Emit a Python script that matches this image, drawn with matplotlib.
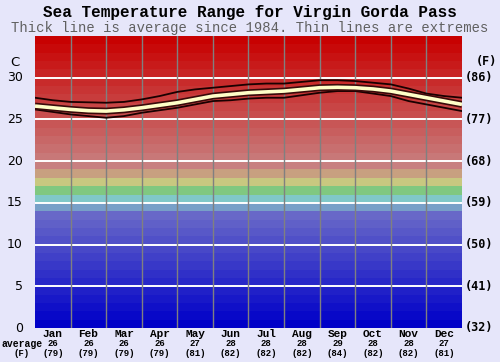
import matplotlib
matplotlib.use("Agg")
import matplotlib.pyplot as plt
import matplotlib.transforms as mtransforms
import numpy as np

# datos (posicion en meses, 0 = 1 de enero)
posicion = [0, 0.5, 1, 1.5, 2, 2.5, 3, 3.5, 4, 4.5, 5, 5.5, 6, 6.5, 7, 7.5, 8, 8.5, 9, 9.5, 10, 10.5, 11, 11.5, 12]
promedio = [26.6, 26.4, 26.2, 26.05, 26.0, 26.15, 26.4, 26.7, 27.0, 27.4, 27.8, 28.0, 28.2,
            28.3, 28.4, 28.6, 28.8, 28.85, 28.8, 28.65, 28.4, 28.0, 27.6, 27.2, 26.8]
maximo = [27.6, 27.3, 27.1, 27.05, 27.0, 27.1, 27.4, 27.8, 28.3, 28.6, 28.8, 29.0, 29.2,
          29.3, 29.3, 29.5, 29.7, 29.7, 29.6, 29.4, 29.2, 28.7, 28.1, 27.8, 27.6]
minimo = [26.2, 25.9, 25.6, 25.4, 25.2, 25.4, 25.8, 26.1, 26.4, 26.8, 27.2, 27.3, 27.5,
          27.6, 27.6, 27.9, 28.2, 28.4, 28.4, 28.1, 27.8, 27.2, 26.8, 26.4, 26.0]

meses = ["Jan", "Feb", "Mar", "Apr", "May", "Jun", "Jul", "Aug", "Sep", "Oct", "Nov", "Dec"]
media_c = ["26", "26", "26", "26", "27", "28", "28", "28", "29", "28", "28", "27"]
media_f = ["(79)", "(79)", "(79)", "(79)", "(81)", "(82)", "(82)", "(82)", "(84)", "(82)", "(82)", "(81)"]
ticks_c = [0, 5, 10, 15, 20, 25, 30]
ticks_f = ["(32)", "(41)", "(50)", "(59)", "(68)", "(77)", "(86)"]


def color_banda(i):
    """Color de la franja de 1 grado que empieza en i."""
    especiales = {14: (120, 160, 200), 15: (128, 200, 200), 16: (128, 200, 128),
                  17: (200, 200, 128), 18: (200, 160, 128), 19: (200, 128, 128)}
    if i < 14:
        c = (8 * i, 8 * i, 200)
    elif i in especiales:
        c = especiales[i]
    else:
        v = max(0, 128 - 8.5 * (i - 19))
        c = (200, v, v)
    return tuple(x / 255 for x in c)


W, H = 500, 362
fig = plt.figure(figsize=(W / 100, H / 100), dpi=100)
fig.patch.set_facecolor("#e6e6fa")
ax = fig.add_axes([35 / W, 1 - 328 / H, (462 - 35) / W, (328 - 36) / H])

# franjas de color
for i in range(35):
    ax.axhspan(i, i + 1, color=color_banda(i), lw=0, zorder=0)

# rejilla
for t in ticks_c[1:]:
    ax.axhline(t, color="white", lw=1.4, zorder=1)
for m in range(1, 12):
    ax.axvline(m, color="#808080", lw=1, zorder=1)

# extremos y promedio
ax.plot(posicion, maximo, color="#1a0000", lw=1.3, zorder=3)
ax.plot(posicion, minimo, color="#1a0000", lw=1.3, zorder=3)
ax.plot(posicion, promedio, color="#3a0a0a", lw=5, solid_capstyle="butt", zorder=4)
ax.plot(posicion, promedio, color="#ffffc8", lw=2.6, solid_capstyle="butt", zorder=5)

ax.set_xlim(0, 12)
ax.set_ylim(0, 35)
ax.set_xticks([])
ax.set_yticks([])
for s in ax.spines.values():
    s.set_visible(False)

# textos
def fy(y):
    return 1 - y / H

fig.text(0.5, fy(13), "Sea Temperature Range for Virgin Gorda Pass", ha="center", va="center",
         family="Liberation Mono", weight="bold", fontsize=11.5, color="black")
fig.text(0.5, fy(28), "Thick line is average since 1984. Thin lines are extremes", ha="center",
         va="center", family="Liberation Mono", fontsize=10, color="#606060")

fig.text(15 / W, fy(62), "C", ha="center", va="center", family="DejaVu Sans", fontsize=9.5)
fig.text(486 / W, fy(62), "(F)", ha="center", va="center", family="DejaVu Sans Mono",
         weight="bold", fontsize=8.5)

trans_izq = mtransforms.blended_transform_factory(fig.transFigure, ax.transData)
for t, f in zip(ticks_c, ticks_f):
    fig.text(23 / W, t, str(t), transform=trans_izq, ha="right", va="center",
             family="DejaVu Sans", fontsize=9)
    fig.text(465 / W, t, f, transform=trans_izq, ha="left", va="center",
             family="DejaVu Sans Mono", weight="bold", fontsize=8.5)

trans_mes = mtransforms.blended_transform_factory(ax.transData, fig.transFigure)
for i, (m, c, f) in enumerate(zip(meses, media_c, media_f)):
    ax.text(i + 0.5, fy(334), m, transform=trans_mes, ha="center", va="center",
            family="Liberation Mono", weight="bold", fontsize=8)
    ax.text(i + 0.5, fy(344), c, transform=trans_mes, ha="center", va="center",
            family="Liberation Mono", weight="bold", fontsize=6.5)
    ax.text(i + 0.5, fy(353), f, transform=trans_mes, ha="center", va="center",
            family="Liberation Mono", weight="bold", fontsize=6.5)

fig.text(1 / W, fy(344), "average", ha="left", va="center", family="Liberation Mono",
         weight="bold", fontsize=7)
fig.text(22 / W, fy(353), "(F)", ha="center", va="center", family="Liberation Mono",
         weight="bold", fontsize=6.5)

fig.savefig("out.png", dpi=100, facecolor=fig.get_facecolor())
